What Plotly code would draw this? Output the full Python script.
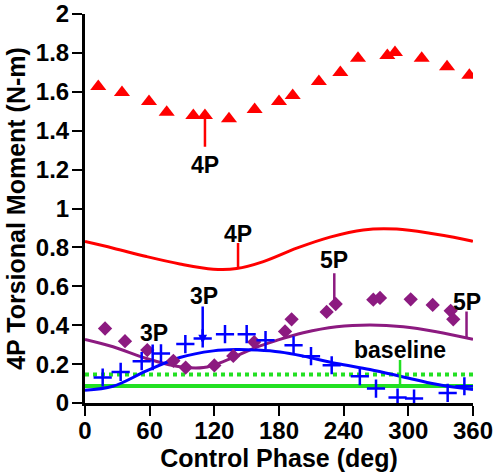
import plotly.graph_objects as go

# ---- data ----
tri_x = [12.3, 34.3, 59.4, 75.8, 100.5, 111.3, 133.6, 157.4, 180, 192.7, 217, 236.9, 253.3, 280.5, 287.6, 312.4, 335.9, 356.6]
tri_y = [1.627, 1.597, 1.550, 1.495, 1.478, 1.478, 1.462, 1.509, 1.550, 1.581, 1.653, 1.699, 1.772, 1.787, 1.802, 1.772, 1.729, 1.685]

red_x = [0, 26.3, 57, 88, 119, 140.7, 165.5, 196.4, 227.3, 258.2, 289.2, 320, 358.8, 360]
red_y = [0.830, 0.796, 0.753, 0.715, 0.688, 0.691, 0.727, 0.796, 0.853, 0.890, 0.894, 0.873, 0.833, 0.831]

dia_x = [18.6, 37.1, 57.8, 82, 93.4, 120, 137.6, 157, 185.6, 191.7, 224.2, 232.6, 267.5, 273.7, 302.2, 322.6, 339.3, 341.7]
dia_y = [0.383, 0.318, 0.272, 0.217, 0.182, 0.193, 0.242, 0.313, 0.368, 0.430, 0.468, 0.509, 0.531, 0.540, 0.533, 0.504, 0.474, 0.430]

pur_x = [0, 26, 57, 88, 110, 131.5, 156, 178, 202.5, 233.5, 264.4, 295.3, 326, 360]
pur_y = [0.327, 0.289, 0.229, 0.186, 0.182, 0.220, 0.280, 0.322, 0.361, 0.392, 0.401, 0.392, 0.366, 0.327]

star_x = [16.4, 33.1, 52.6, 70.5, 93.1, 109.2, 129.9, 150, 167.5, 193.5, 209.7, 228.9, 255, 270, 290, 305.3, 336.5, 352]
star_y = [0.131, 0.160, 0.215, 0.255, 0.303, 0.332, 0.354, 0.354, 0.323, 0.297, 0.241, 0.194, 0.138, 0.074, 0.028, 0.023, 0.052, 0.086]

blue_x = [0, 26, 57, 88, 119, 140, 160, 181, 202.5, 233.5, 264.4, 295.3, 326, 360]
blue_y = [0.066, 0.086, 0.165, 0.234, 0.268, 0.275, 0.272, 0.262, 0.241, 0.203, 0.172, 0.134, 0.096, 0.069]

base_x = [0, 360]
base_solid = [0.088, 0.088]
base_dot = [0.146, 0.146]

x_ticks = [0, 60, 120, 180, 240, 300, 360]
y_ticks = [0, 0.2, 0.4, 0.6, 0.8, 1, 1.2, 1.4, 1.6, 1.8, 2]
y_tick_text = ["0", "0.2", "0.4", "0.6", "0.8", "1", "1.2", "1.4", "1.6", "1.8", "2"]

# labels: text, x, label y, line top, line bottom, colour
labels = [
    ("4P", 111.3, 1.225, 1.31, 1.478, "#FF0000"),
    ("4P", 142.0, 0.868, 0.830, 0.690, "#FF0000"),
    ("3P", 109.2, 0.552, 0.504, 0.306, "#0000FF"),
    ("3P", 62.8, 0.360, 0.309, 0.169, "#0000FF"),
    ("5P", 231.3, 0.735, 0.675, 0.525, "#8C1A80"),
    ("5P", 354.0, 0.520, 0.478, 0.337, "#8C1A80"),
    ("baseline", 292.3, 0.272, 0.229, 0.088, "#22E022"),
]
label_x_shift = {"5P": 0, "3P": 1.5, "4P": 0, "baseline": 0}

RED = "#FF0000"
BLUE = "#0000FF"
PURPLE = "#8C1A80"
GREEN = "#22E022"
FONT = "Liberation Sans"

fig = go.Figure()

fig.add_trace(go.Scatter(x=base_x, y=base_solid, mode="lines",
                         line=dict(color=GREEN, width=4), showlegend=False))
fig.add_trace(go.Scatter(x=base_x, y=base_dot, mode="lines",
                         line=dict(color=GREEN, width=4, dash="dot"), showlegend=False))
fig.add_trace(go.Scatter(x=red_x, y=red_y, mode="lines",
                         line=dict(color=RED, width=3, shape="spline"), showlegend=False))
fig.add_trace(go.Scatter(x=pur_x, y=pur_y, mode="lines",
                         line=dict(color=PURPLE, width=3, shape="spline"), showlegend=False))
fig.add_trace(go.Scatter(x=blue_x, y=blue_y, mode="lines",
                         line=dict(color=BLUE, width=3, shape="spline"), showlegend=False))
fig.add_trace(go.Scatter(x=tri_x, y=tri_y, mode="markers",
                         marker=dict(symbol="triangle-up", size=14, color=RED), showlegend=False))
fig.add_trace(go.Scatter(x=dia_x, y=dia_y, mode="markers",
                         marker=dict(symbol="diamond", size=11, color=PURPLE), showlegend=False))
fig.add_trace(go.Scatter(x=star_x, y=star_y, mode="markers",
                         marker=dict(symbol="cross-thin-open", size=13, color=BLUE,
                                     line=dict(color=BLUE, width=2.5)), showlegend=False))

annotations = []
for i, (txt, x, ly, top, bot, col) in enumerate(labels):
    head = 2 if i == 2 else 0
    annotations.append(dict(x=x, y=bot, ax=x, ay=top, xref="x", yref="y",
                            axref="x", ayref="y", text="", showarrow=True,
                            arrowhead=head, arrowsize=0.7, arrowwidth=2.5, arrowcolor=col))
    annotations.append(dict(x=x + label_x_shift[txt], y=ly, xref="x", yref="y", text="<b>%s</b>" % txt,
                            showarrow=False, font=dict(family=FONT, size=23, color="black"),
                            xanchor="center", yanchor="middle"))

annotations.append(dict(x=0.326, y=1.033, xref="paper", yref="paper", text="<b>(a)</b>",
                        showarrow=False, font=dict(family=FONT, size=24, color="black"),
                        xanchor="center", yanchor="bottom"))

fig.update_layout(
    width=497, height=475,
    margin=dict(l=85, r=24, t=14, b=72, autoexpand=False),
    paper_bgcolor="white", plot_bgcolor="white",
    font=dict(family=FONT, color="black"),
    annotations=annotations,
    showlegend=False,
)
fig.update_xaxes(range=[0, 360], tickvals=x_ticks, ticktext=["<b>%d</b>" % v for v in x_ticks],
                 showgrid=False, zeroline=False, showline=True, linecolor="black", linewidth=3,
                 ticks="outside", ticklen=10, tickwidth=2, tickcolor="black", automargin=False,
                 ticklabelstandoff=-6,
                 tickfont=dict(family=FONT, size=24, color="black"),
                 title=dict(text="<b>Control Phase (deg)</b>", font=dict(family=FONT, size=25), standoff=0))
fig.update_yaxes(range=[0, 2], tickvals=y_ticks, ticktext=["<b>%s</b>" % t for t in y_tick_text],
                 showgrid=False, zeroline=False, showline=True, linecolor="black", linewidth=3,
                 ticks="outside", ticklen=10, tickwidth=2, tickcolor="black", automargin=False,
                 ticklabelstandoff=-2,
                 tickfont=dict(family=FONT, size=24, color="black"),
                 title=dict(text="<b>4P Torsional Moment (N-m)</b>", font=dict(family=FONT, size=25), standoff=4))

fig.write_html("out.html", config={"displayModeBar": False},
               post_script="document.body.style.margin='0';document.body.style.overflow='hidden';")
